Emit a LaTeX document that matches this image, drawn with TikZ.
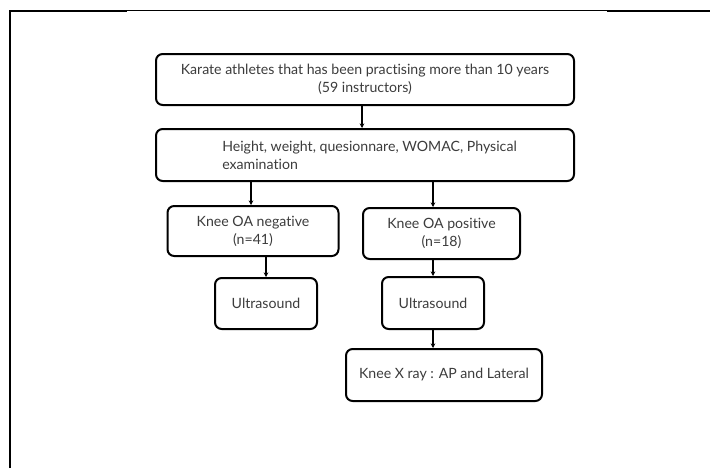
\documentclass[tikz,border=0pt]{standalone}
\usepackage{fontspec}
\setmainfont{Lato}[Ligatures={NoCommon,NoRare,NoContextual}]
\usetikzlibrary{arrows.meta}
\definecolor{txt}{HTML}{3C3C3C}
\begin{document}
\begin{tikzpicture}[x=0.75pt,y=-0.75pt,
  box/.style={draw=black,line width=1.5pt,rounded corners=5pt,fill=white,
    text=txt,align=center,inner sep=0pt,
    font=\fontsize{10.6pt}{13.5pt}\selectfont},
  txtnode/.style={text=txt,align=left,inner sep=0pt,
    font=\fontsize{10.6pt}{13.5pt}\selectfont},
  arr/.style={line width=0.9pt,-{Stealth[length=3.5pt,width=3.5pt]}}]
\useasboundingbox (0,0) rectangle (710,468);
% frame
\draw[line width=1.5pt] (10,468) -- (10,10.5) -- (127,10.5);
\draw[line width=0.75pt] (127,10.5) -- (607,10.5);
\draw[line width=1.5pt] (607,10.5) -- (710,10.5);
% boxes
\node[box,minimum width=313.5pt,minimum height=38.25pt] (b1) at (365,79.5)
  {Karate athletes that has been practising more than 10 years\\(59 instructors)};
\node[box,minimum width=313.5pt,minimum height=39pt] (b2) at (365,155) {};
\node[txtnode,anchor=west] (b2t) at (222,155)
  {Height, weight, quesionnare, WOMAC, Physical\\examination};
\node[box,minimum width=128.25pt,minimum height=37.5pt] (neg) at (253,231)
  {Knee OA negative\\(n=41)};
\node[box,minimum width=117.75pt,minimum height=38.25pt] (pos) at (441.5,233.5)
  {Knee OA positive\\(n=18)};
\node[box,minimum width=76.5pt,minimum height=38.25pt] (us1) at (266,303.5)
  {Ultrasound};
\node[box,minimum width=76.5pt,minimum height=39pt] (us2) at (433,303)
  {Ultrasound};
\node[box,minimum width=147pt,minimum height=39pt] (xr) at (444,375)
  {Knee X ray : AP and Lateral};
% connectors
\draw[arr] (b1.south -| 362,0) -- (b2.north -| 362,0);
\draw[arr] (b2.south -| 251,0) -- (neg.north -| 251,0);
\draw[arr] (b2.south -| us2.north) -- (pos.north -| us2.north);
\draw[arr] (neg.south -| us1.north) -- (us1.north);
\draw[arr] (pos.south -| us2.north) -- (us2.north);
\draw[arr] (us2.south) -- (xr.north -| us2.south);
\end{tikzpicture}
\end{document}
